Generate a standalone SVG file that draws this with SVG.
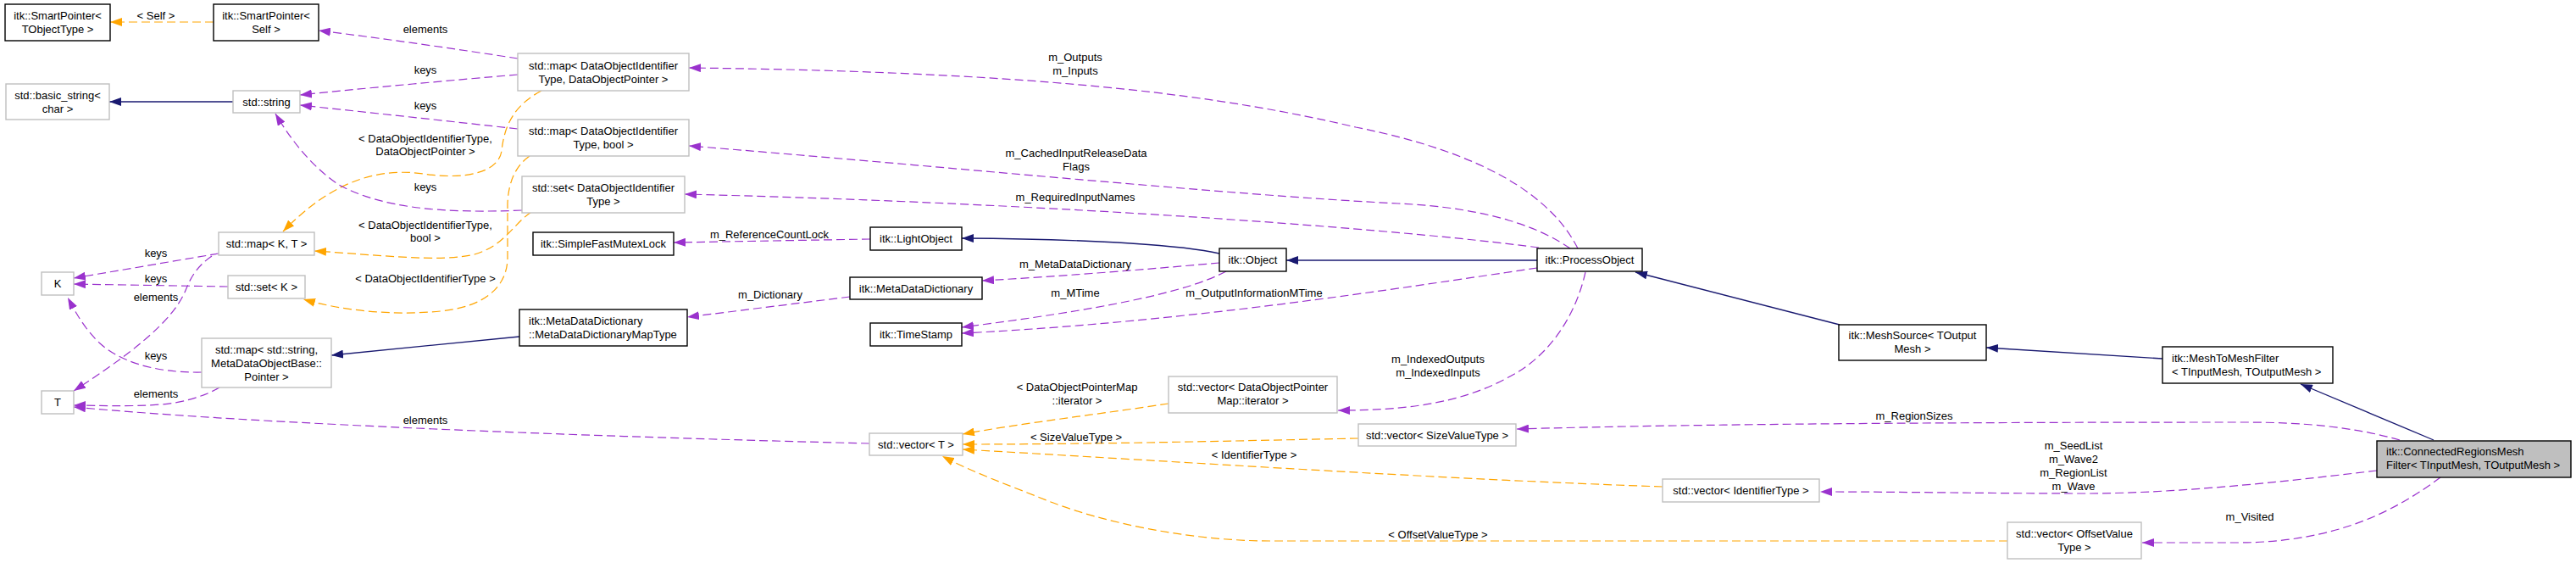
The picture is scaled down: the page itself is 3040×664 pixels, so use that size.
<svg xmlns="http://www.w3.org/2000/svg" width="3040" height="664" viewBox="0 0 3040 664">
<style>
text{font-family:"Liberation Sans",Arial,sans-serif;font-size:13px;fill:#000}
.c{text-anchor:middle}
.doc{fill:#fff;stroke:#000;stroke-width:1.4}
.und{fill:#fff;stroke:#bfbfbf;stroke-width:1.4}
.main{fill:#bfbfbf;stroke:#000;stroke-width:1.4}
.p{fill:none;stroke:#9a32cd;stroke-width:1.2;stroke-dasharray:10,5;marker-end:url(#ap)}
.o{fill:none;stroke:#ffa500;stroke-width:1.2;stroke-dasharray:10,5;marker-end:url(#ao)}
.n{fill:none;stroke:#191970;stroke-width:1.3;marker-end:url(#an)}
</style>
<defs>
<marker id="ap" viewBox="0 0 14 10" refX="14" refY="5" markerWidth="14" markerHeight="10" markerUnits="userSpaceOnUse" orient="auto"><path d="M0,0 L14,5 L0,10 z" fill="#9a32cd"/></marker>
<marker id="ao" viewBox="0 0 14 10" refX="14" refY="5" markerWidth="14" markerHeight="10" markerUnits="userSpaceOnUse" orient="auto"><path d="M0,0 L14,5 L0,10 z" fill="#ffa500"/></marker>
<marker id="an" viewBox="0 0 14 10" refX="14" refY="5" markerWidth="14" markerHeight="10" markerUnits="userSpaceOnUse" orient="auto"><path d="M0,0 L14,5 L0,10 z" fill="#191970"/></marker>
</defs>
<rect width="3040" height="664" fill="#fff"/>
<g id="edges">
<path class="o" d="M252,26 L130,26"/>
<text class="c" x="184" y="22.5">&lt; Self &gt;</text>
<path class="n" d="M275,120 L129,120"/>
<path class="p" d="M611,69 C540,58 450,45 376,36"/>
<text class="c" x="502" y="39">elements</text>
<path class="p" d="M611,88 C540,94 420,105 354,112"/>
<text class="c" x="502" y="87">keys</text>
<path class="p" d="M611,152 C540,144 420,131 354,124"/>
<text class="c" x="502" y="128.5">keys</text>
<path class="o" d="M639,107 C605,125 595,150 592,178 C588,205 545,212 500,205 C450,198 395,210 334,273"/>
<text class="c" x="502" y="167.5">&lt; DataObjectIdentifierType,</text>
<text class="c" x="502" y="183">DataObjectPointer &gt;</text>
<path class="p" d="M616,248 C520,252 450,245 400,218 C370,198 345,168 325,134"/>
<text class="c" x="502" y="224.5">keys</text>
<path class="o" d="M627,250 C605,265 595,290 560,300 C520,310 440,300 371,296"/>
<text class="c" x="502" y="269.5">&lt; DataObjectIdentifierType,</text>
<text class="c" x="502" y="284.5">bool &gt;</text>
<path class="o" d="M625,184 C608,196 600,215 599,240 L599,305 C598,340 570,362 520,367 C470,372 410,368 358,353"/>
<text class="c" x="502" y="332.5">&lt; DataObjectIdentifierType &gt;</text>
<path class="p" d="M258,299 L87,328"/>
<text class="c" x="184" y="302.5">keys</text>
<path class="p" d="M269,338 L87,335"/>
<text class="c" x="184" y="333">keys</text>
<path class="p" d="M250,302 C235,312 226,325 220,340 C205,380 150,420 87,461"/>
<text class="c" x="184" y="355">elements</text>
<path class="p" d="M238,439 C180,440 140,425 118,405 C100,388 90,370 80,351"/>
<text class="c" x="184" y="423.5">keys</text>
<path class="p" d="M259,457 C240,468 215,475 190,477 C150,480 115,478 87,478"/>
<text class="c" x="184" y="468.5">elements</text>
<path class="p" d="M1026,523 C700,515 300,500 87,480"/>
<text class="c" x="502" y="500">elements</text>
<path class="n" d="M613,397 L391,419"/>
<path class="p" d="M1003,350 L811,374"/>
<text class="c" x="909" y="351.5">m_Dictionary</text>
<path class="p" d="M1027,282 L795,286"/>
<text class="c" x="908" y="280.5">m_ReferenceCountLock</text>
<path class="n" d="M1439,299 C1400,290 1300,282 1135,281"/>
<path class="p" d="M1439,310 C1350,318 1250,326 1159,331"/>
<text class="c" x="1269" y="315.5">m_MetaDataDictionary</text>
<path class="p" d="M1447,320 C1400,345 1300,365 1135,386"/>
<text class="c" x="1269" y="349.5">m_MTime</text>
<path class="p" d="M1814,316 C1650,340 1400,380 1135,393"/>
<text class="c" x="1480" y="349.5">m_OutputInformationMTime</text>
<path class="n" d="M1814,307 L1518,307"/>
<path class="p" d="M1862,293 C1830,230 1750,180 1600,150 C1450,115 1250,85 813,80"/>
<text class="c" x="1269" y="71.5">m_Outputs</text>
<text class="c" x="1269" y="87.5">m_Inputs</text>
<path class="p" d="M1853,293 C1820,270 1760,245 1650,240 C1450,230 1100,195 813,172"/>
<text class="c" x="1270" y="184.5">m_CachedInputReleaseData</text>
<text class="c" x="1270" y="200.5">Flags</text>
<path class="p" d="M1816,292 C1650,270 1250,240 808,229"/>
<text class="c" x="1269" y="236.5">m_RequiredInputNames</text>
<path class="p" d="M1871,321 C1860,370 1830,420 1780,445 C1720,478 1650,484 1579,484"/>
<text class="c" x="1697" y="427.5">m_IndexedOutputs</text>
<text class="c" x="1697" y="443.5">m_IndexedInputs</text>
<path class="o" d="M1379,476 C1300,488 1200,500 1136,512"/>
<text class="c" x="1271" y="460.5">&lt; DataObjectPointerMap</text>
<text class="c" x="1271" y="476.5">::iterator &gt;</text>
<path class="n" d="M2171,383 L1930,321"/>
<path class="n" d="M2552,423 L2344,410"/>
<path class="n" d="M2872,519 L2715,453"/>
<path class="p" d="M2832,519 C2780,504 2720,498 2650,498 C2300,498 2000,500 1790,506"/>
<text class="c" x="2259" y="494.5">m_RegionSizes</text>
<path class="p" d="M2805,555 C2720,565 2580,582 2460,582 C2350,582 2250,580 2148,580"/>
<text class="c" x="2447" y="529.5">m_SeedList</text>
<text class="c" x="2447" y="545.5">m_Wave2</text>
<text class="c" x="2447" y="561.5">m_RegionList</text>
<text class="c" x="2447" y="577.5">m_Wave</text>
<path class="p" d="M2880,563 C2830,600 2760,640 2640,640 L2528,640"/>
<text class="c" x="2655" y="613.5">m_Visited</text>
<path class="o" d="M1603,517 C1450,520 1300,524 1136,524"/>
<text class="c" x="1270" y="519.5">&lt; SizeValueType &gt;</text>
<path class="o" d="M1962,574 C1700,565 1400,545 1136,530"/>
<text class="c" x="1480" y="540.5">&lt; IdentifierType &gt;</text>
<path class="o" d="M2369,638 L1500,638 C1400,638 1300,615 1240,592 C1190,572 1150,558 1112,538"/>
<text class="c" x="1697" y="634.5">&lt; OffsetValueType &gt;</text>
</g>
<g id="n_sp_tobj"><rect class="doc" x="6" y="5" width="124" height="43"/><text class="c" x="68" y="23">itk::SmartPointer&lt;</text><text class="c" x="68" y="39">TObjectType &gt;</text></g>
<g id="n_sp_self"><rect class="doc" x="252" y="5" width="124" height="43"/><text class="c" x="314" y="23">itk::SmartPointer&lt;</text><text class="c" x="314" y="39">Self &gt;</text></g>
<g id="n_basic_string"><rect class="und" x="7" y="99" width="122" height="42"/><text class="c" x="68" y="116.5">std::basic_string&lt;</text><text class="c" x="68" y="132.5">char &gt;</text></g>
<g id="n_string"><rect class="und" x="275" y="107" width="79" height="26"/><text class="c" x="314.5" y="124.5">std::string</text></g>
<g id="n_map_dop"><rect class="und" x="611" y="63" width="202" height="44"/><text class="c" x="712" y="81.5">std::map&lt; DataObjectIdentifier</text><text class="c" x="712" y="97.5">Type, DataObjectPointer &gt;</text></g>
<g id="n_map_bool"><rect class="und" x="611" y="141" width="202" height="43"/><text class="c" x="712" y="159">std::map&lt; DataObjectIdentifier</text><text class="c" x="712" y="175">Type, bool &gt;</text></g>
<g id="n_set_doit"><rect class="und" x="616" y="208" width="192" height="43"/><text class="c" x="712" y="226">std::set&lt; DataObjectIdentifier</text><text class="c" x="712" y="242">Type &gt;</text></g>
<g id="n_map_kt"><rect class="und" x="258" y="274" width="113" height="27"/><text class="c" x="314.5" y="292">std::map&lt; K, T &gt;</text></g>
<g id="n_mutex"><rect class="doc" x="629" y="274" width="166" height="27"/><text class="c" x="712" y="292">itk::SimpleFastMutexLock</text></g>
<g id="n_lightobject"><rect class="doc" x="1027" y="268" width="108" height="27"/><text class="c" x="1081" y="286">itk::LightObject</text></g>
<g id="n_K"><rect class="und" x="49" y="321" width="38" height="27"/><text class="c" x="68" y="339">K</text></g>
<g id="n_set_k"><rect class="und" x="269" y="325" width="91" height="27"/><text class="c" x="314.5" y="343">std::set&lt; K &gt;</text></g>
<g id="n_mdd"><rect class="doc" x="1003" y="327" width="156" height="26"/><text class="c" x="1081" y="344.5">itk::MetaDataDictionary</text></g>
<g id="n_object"><rect class="doc" x="1439" y="293" width="79" height="27"/><text class="c" x="1478.5" y="311">itk::Object</text></g>
<g id="n_processobject"><rect class="doc" x="1814" y="293" width="124" height="27"/><text class="c" x="1876" y="311">itk::ProcessObject</text></g>
<g id="n_maptype"><rect class="doc" x="613" y="365" width="198" height="43"/><text x="624" y="383">itk::MetaDataDictionary</text><text x="624" y="399">::MetaDataDictionaryMapType</text></g>
<g id="n_timestamp"><rect class="doc" x="1027" y="381" width="108" height="27"/><text class="c" x="1081" y="399">itk::TimeStamp</text></g>
<g id="n_map_str"><rect class="und" x="238" y="399" width="153" height="58"/><text class="c" x="314.5" y="416.5">std::map&lt; std::string,</text><text class="c" x="314.5" y="432.5">MetaDataObjectBase::</text><text class="c" x="314.5" y="448.5">Pointer &gt;</text></g>
<g id="n_T"><rect class="und" x="49" y="461" width="38" height="27"/><text class="c" x="68" y="479">T</text></g>
<g id="n_vec_iter"><rect class="und" x="1379" y="444" width="199" height="43"/><text class="c" x="1478.5" y="461">std::vector&lt; DataObjectPointer</text><text class="c" x="1478.5" y="477">Map::iterator &gt;</text></g>
<g id="n_vec_t"><rect class="und" x="1026" y="511" width="110" height="26"/><text class="c" x="1081" y="528.5">std::vector&lt; T &gt;</text></g>
<g id="n_vec_size"><rect class="und" x="1603" y="500" width="186" height="26"/><text class="c" x="1696" y="517.5">std::vector&lt; SizeValueType &gt;</text></g>
<g id="n_meshsource"><rect class="doc" x="2170" y="383" width="174" height="42"/><text class="c" x="2257" y="400">itk::MeshSource&lt; TOutput</text><text class="c" x="2257" y="416">Mesh &gt;</text></g>
<g id="n_mtmf"><rect class="doc" x="2552" y="409" width="201" height="43"/><text x="2563" y="427">itk::MeshToMeshFilter</text><text x="2563" y="443">&lt; TInputMesh, TOutputMesh &gt;</text></g>
<g id="n_vec_ident"><rect class="und" x="1962" y="565" width="185" height="27"/><text class="c" x="2054.5" y="583">std::vector&lt; IdentifierType &gt;</text></g>
<g id="n_crmf"><rect class="main" x="2805" y="520" width="229" height="43"/><text x="2816" y="537">itk::ConnectedRegionsMesh</text><text x="2816" y="553">Filter&lt; TInputMesh, TOutputMesh &gt;</text></g>
<g id="n_vec_offset"><rect class="und" x="2369" y="616" width="158" height="43"/><text class="c" x="2448" y="633.5">std::vector&lt; OffsetValue</text><text class="c" x="2448" y="649.5">Type &gt;</text></g>
</svg>
